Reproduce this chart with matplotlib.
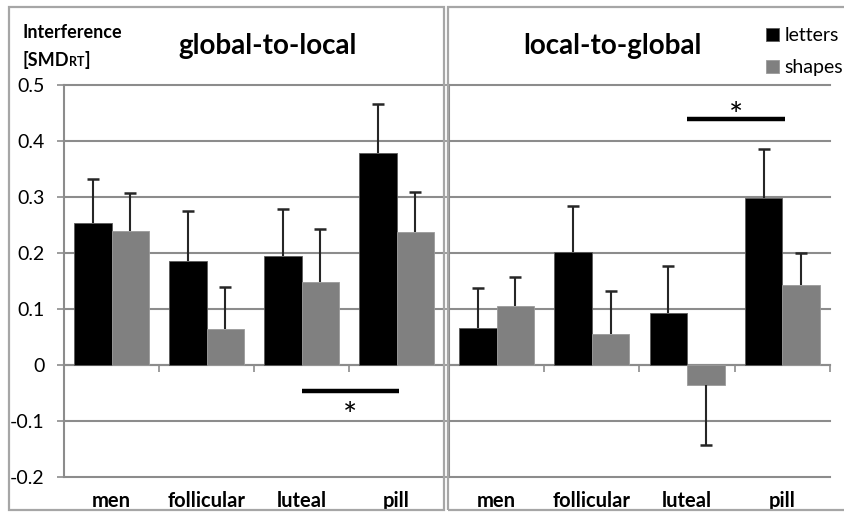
import matplotlib.pyplot as plt
import numpy as np
from matplotlib.patches import Rectangle

plt.rcParams['font.family'] = ['Lato', 'DejaVu Sans']

groups = ["men", "follicular", "luteal", "pill"]
series = ["letters", "shapes"]

# global-to-local condition
g2l_letters = [0.254, 0.185, 0.195, 0.379]
g2l_letters_err = [0.078, 0.090, 0.084, 0.087]
g2l_shapes = [0.239, 0.064, 0.149, 0.237]
g2l_shapes_err = [0.068, 0.075, 0.094, 0.072]

# local-to-global condition
l2g_letters = [0.066, 0.202, 0.092, 0.299]
l2g_letters_err = [0.071, 0.082, 0.084, 0.087]
l2g_shapes = [0.105, 0.056, -0.036, 0.142]
l2g_shapes_err = [0.053, 0.077, 0.106, 0.058]

# significance bars: (x from, x to, y)
g2l_sig = (2.0, 3.03, -0.046)
l2g_sig = (2.0, 3.03, 0.439)

W, H = 845, 513
fig = plt.figure(figsize=(W / 100, H / 100), dpi=100)


def px_box(x0, y0, x1, y1):
    return [x0 / W, 1 - y1 / H, (x1 - x0) / W, (y1 - y0) / H]


grid_col = "#8c8c8c"
frame_col = "#a6a6a6"

# panel frames
for x0, x1 in [(9.5, 444.5), (447.5, 850)]:
    fig.patches.append(Rectangle((x0 / W, 1 - 510 / H), (x1 - x0) / W, 503 / H,
                                 transform=fig.transFigure, fill=False,
                                 edgecolor=frame_col, lw=1.6, zorder=0))

ax1 = fig.add_axes(px_box(64, 85, 444, 477))
ax2 = fig.add_axes(px_box(449, 85, 830, 477))

bw = 0.395
x = np.arange(len(groups))


def add_errors(ax, xs, vals, errs):
    # error bars only point away from zero, with a cap at the far end
    vals = np.asarray(vals)
    errs = np.asarray(errs)
    lo = np.where(vals < 0, errs, 0)
    hi = np.where(vals < 0, 0, errs)
    ax.errorbar(xs, vals, yerr=[lo, hi], fmt="none", ecolor="#262626",
                elinewidth=1.5, capsize=0, zorder=4)
    tips = vals + np.sign(vals) * errs
    ax.plot(xs, tips, ls="none", marker="_", ms=8, mew=1.8, color="#262626", zorder=4)


def draw_panel(ax, letters, letters_err, shapes, shapes_err, sig, title, title_x,
               show_labels, star_dy):
    ax.bar(x - bw / 2, letters, bw, color="black", edgecolor="#5a5a5a", lw=0.6,
           label=series[0], zorder=3)
    ax.bar(x + bw / 2, shapes, bw, color="#808080", edgecolor="#9a9a9a", lw=0.6,
           label=series[1], zorder=3)
    add_errors(ax, x - bw / 2, letters, letters_err)
    add_errors(ax, x + bw / 2, shapes, shapes_err)

    ax.set_xlim(-0.5, 3.5)
    ax.set_ylim(-0.2, 0.5)
    ax.set_yticks(np.arange(-0.2, 0.51, 0.1))
    ax.yaxis.grid(True, color=grid_col, lw=1.5, zorder=0)
    for ln in ax.get_ygridlines():
        ln.set_clip_on(False)
    ax.set_axisbelow(True)

    for s in ["top", "right"]:
        ax.spines[s].set_visible(False)
    ax.spines["left"].set_color(grid_col)
    ax.spines["left"].set_linewidth(1.5)
    ax.spines["bottom"].set_position(("data", 0))
    ax.spines["bottom"].set_color(grid_col)
    ax.spines["bottom"].set_linewidth(1.5)

    ax.set_xticks(np.arange(-0.5, 3.6, 1.0))
    ax.tick_params(axis="x", direction="out", length=5, width=1.2, color=grid_col,
                   labelbottom=False)
    ax.tick_params(axis="y", direction="out", length=5, width=1.2, color=grid_col,
                   labelsize=14, pad=9, labelleft=show_labels)
    if show_labels:
        ax.set_yticklabels(["-0.2", "-0.1", "0", "0.1", "0.2", "0.3", "0.4", "0.5"])

    sec = ax.secondary_xaxis(0)
    sec.set_xticks(x)
    sec.set_xticklabels(groups, fontsize=14.5, fontweight="bold")
    sec.tick_params(length=0, pad=10)
    sec.spines["bottom"].set_visible(False)

    x0, x1, y = sig
    ax.plot([x0, x1], [y, y], color="black", lw=3.2, solid_capstyle="butt", zorder=4,
            clip_on=False)
    ax.text((x0 + x1) / 2, y + star_dy, "*", ha="center", va="center", fontsize=24,
            zorder=4)

    fig.text(title_x / W, 1 - 46 / H, title, ha="center", va="center",
             fontsize=20, fontweight="bold")


draw_panel(ax1, g2l_letters, g2l_letters_err, g2l_shapes, g2l_shapes_err, g2l_sig,
           "global-to-local", 268, True, -0.046)
draw_panel(ax2, l2g_letters, l2g_letters_err, l2g_shapes, l2g_shapes_err, l2g_sig,
           "local-to-global", 612, False, 0.004)

# y-axis caption with small-caps subscript
fig.text(23 / W, 1 - 33 / H, "Interference", ha="left", va="center",
         fontsize=13, fontweight="bold")
t = fig.text(23 / W, 1 - 66 / H, "[SMD", ha="left", va="baseline",
             fontsize=13, fontweight="bold")
fig.canvas.draw()
bb = t.get_window_extent()
t2 = fig.text(bb.x1 / W, 1 - 66 / H, "RT", ha="left", va="baseline",
              fontsize=9, fontweight="bold")
fig.canvas.draw()
bb2 = t2.get_window_extent()
fig.text(bb2.x1 / W, 1 - 66 / H, "]", ha="left", va="baseline",
         fontsize=13, fontweight="bold")

handles, labels = ax2.get_legend_handles_labels()
fig.legend(handles, labels, loc="upper left", bbox_to_anchor=(766 / W, 1 - 27 / H),
           frameon=False, fontsize=14, handlelength=0.65, handleheight=0.65,
           handletextpad=0.3, labelspacing=0.78, borderpad=0, borderaxespad=0)

fig.savefig("out.png", dpi=100)
